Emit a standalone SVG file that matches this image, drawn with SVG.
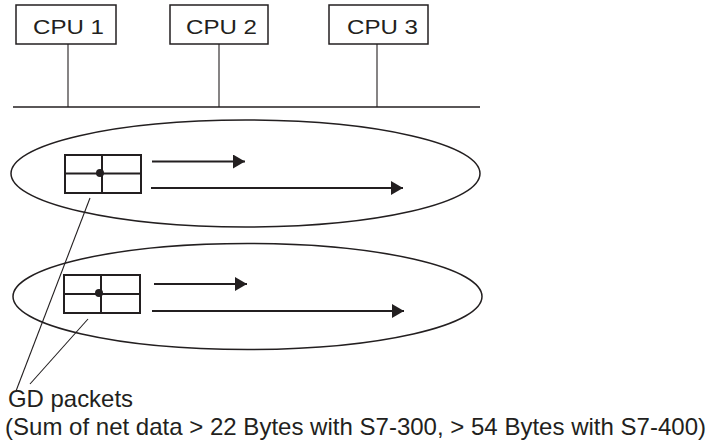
<svg xmlns="http://www.w3.org/2000/svg" width="709" height="444" viewBox="0 0 709 444">
<style>
.box{fill:#fff;stroke:#231f20;stroke-width:1.5}
.ln{stroke:#231f20;stroke-width:1.5;fill:none}
.thin{stroke:#231f20;stroke-width:1.1;fill:none}
.grid{stroke:#231f20;stroke-width:2;fill:#fff}
.arr{stroke:#231f20;stroke-width:1.8;fill:none;marker-end:url(#ah)}
text{font-family:"Liberation Sans",Arial,sans-serif;fill:#231f20}
.cpu{font-size:21px}
.cap{font-size:24px}
</style>
<defs>
<marker id="ah" markerUnits="userSpaceOnUse" markerWidth="13" markerHeight="14" refX="12" refY="7" orient="auto">
<path d="M0,0 L12,7 L0,14 Z" fill="#231f20"/>
</marker>
</defs>
<rect width="709" height="444" fill="#fff"/>
<g id="cpu1"><rect class="box" x="16" y="5" width="100" height="39"/><text class="cpu" x="33" y="34" textLength="71" lengthAdjust="spacingAndGlyphs">CPU 1</text></g>
<g id="cpu2"><rect class="box" x="170" y="5" width="98" height="39"/><text class="cpu" x="186" y="34" textLength="71" lengthAdjust="spacingAndGlyphs">CPU 2</text></g>
<g id="cpu3"><rect class="box" x="329" y="5" width="99" height="39"/><text class="cpu" x="347" y="34" textLength="71" lengthAdjust="spacingAndGlyphs">CPU 3</text></g>
<g id="bus"><line class="ln" x1="13" y1="107" x2="480" y2="107"/></g>
<g id="connectors">
<line class="thin" x1="68" y1="44" x2="68" y2="107"/>
<line class="thin" x1="219" y1="44" x2="219" y2="107"/>
<line class="thin" x1="377" y1="44" x2="377" y2="107"/>
</g>
<g id="gd1">
<ellipse class="ln" cx="245.5" cy="173.5" rx="234.5" ry="53.5"/>
<rect class="grid" x="65" y="155" width="76" height="38"/>
<line class="grid" x1="65" y1="173.5" x2="141" y2="173.5"/>
<line class="grid" x1="102" y1="155" x2="102" y2="193"/>
<circle cx="100" cy="173" r="4" fill="#231f20"/>
<line class="arr" x1="152" y1="161.5" x2="245" y2="161.5"/>
<line class="arr" x1="151" y1="188" x2="403" y2="188"/>
</g>
<g id="gd2">
<ellipse class="ln" cx="247.5" cy="296.5" rx="234.5" ry="53"/>
<rect class="grid" x="64" y="275" width="76" height="38"/>
<line class="grid" x1="64" y1="294" x2="140" y2="294"/>
<line class="grid" x1="101" y1="275" x2="101" y2="313"/>
<circle cx="99" cy="293" r="4" fill="#231f20"/>
<line class="arr" x1="154" y1="284" x2="247" y2="284"/>
<line class="arr" x1="152" y1="311" x2="404" y2="311"/>
</g>
<g id="leaders">
<line class="thin" x1="90" y1="198" x2="16" y2="391"/>
<line class="thin" x1="88" y1="319" x2="30" y2="384"/>
</g>
<g id="caption">
<text class="cap" x="8" y="407" font-size="23" textLength="125" lengthAdjust="spacingAndGlyphs">GD packets</text>
<text class="cap" x="5" y="435" textLength="701" lengthAdjust="spacingAndGlyphs">(Sum of net data &gt; 22 Bytes with S7-300, &gt; 54 Bytes with S7-400)</text>
</g>
</svg>
